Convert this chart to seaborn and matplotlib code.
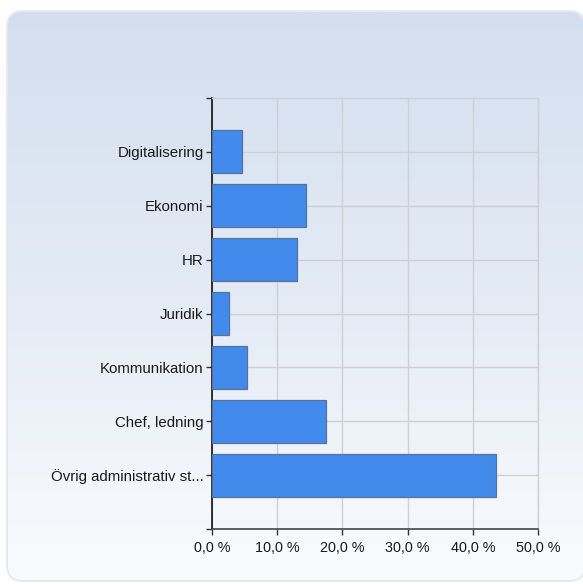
import numpy as np
import pandas as pd
import matplotlib
matplotlib.use("Agg")
import matplotlib.pyplot as plt
from matplotlib.patches import FancyBboxPatch
from matplotlib.colors import LinearSegmentedColormap
from matplotlib.ticker import FuncFormatter, FixedLocator
import seaborn as sns

categories = ["Digitalisering", "Ekonomi", "HR", "Juridik", "Kommunikation",
              "Chef, ledning", "Övrig administrativ st..."]
shares = [4.6, 14.4, 13.0, 2.6, 5.4, 17.5, 43.5]
x_ticks = [0, 10, 20, 30, 40, 50]

df = pd.DataFrame({"Kategori": categories, "Andel": shares})

sns.set_style("white")
plt.rcParams["font.family"] = ["Liberation Sans", "DejaVu Sans"]

fig = plt.figure(figsize=(5.83, 5.84), dpi=100)
fig.patch.set_facecolor("white")

# rounded panel with a vertical gradient behind the chart (pixel coordinates)
W, H = 583, 584
bg_ax = fig.add_axes([0, 0, 1, 1], zorder=-1)
bg_ax.set_xlim(0, W)
bg_ax.set_ylim(H, 0)
bg_ax.set_axis_off()
bg_ax.set_facecolor("none")

shadow = FancyBboxPatch((6, 10), 580, 572,
                        boxstyle="round,pad=0,rounding_size=17",
                        facecolor="#e8eaee", edgecolor="none", zorder=1)
bg_ax.add_patch(shadow)
panel = FancyBboxPatch((8, 12), 576, 568,
                       boxstyle="round,pad=0,rounding_size=15",
                       facecolor="none", edgecolor="none", zorder=2)
bg_ax.add_patch(panel)
cmap = LinearSegmentedColormap.from_list("panel", ["#d3dfef", "#e4ebf5", "#fafbfe"])
grad = np.linspace(0, 1, 256).reshape(-1, 1)
im = bg_ax.imshow(grad, aspect="auto", cmap=cmap, extent=[8, 584, 580, 12],
                  origin="upper", zorder=3)
im.set_clip_path(panel)

ax = fig.add_axes([212 / W, 1 - 529 / H, 326 / W, 431 / H])
ax.set_facecolor("none")

sns.barplot(data=df, y="Kategori", x="Andel", orient="h", ax=ax,
            color="#428aec", width=0.8, saturation=1,
            edgecolor="#56739c", linewidth=0.9, zorder=3)

ax.set_xlim(0, 50)
ax.set_ylim(7, -1)
ax.xaxis.set_major_locator(FixedLocator(x_ticks))
ax.xaxis.set_major_formatter(FuncFormatter(lambda v, p: f"{v:.1f} %".replace(".", ",")))
ax.yaxis.set_minor_locator(FixedLocator([-1, 7]))

ax.grid(True, color="#cdd0d4", linewidth=1, zorder=0)
ax.set_axisbelow(True)
ax.set_xlabel("")
ax.set_ylabel("")

for side in ["top", "right"]:
    ax.spines[side].set_visible(True)
    ax.spines[side].set_color("#cdd0d4")
    ax.spines[side].set_linewidth(1)
ax.spines["left"].set_color("#111111")
ax.spines["left"].set_linewidth(1.2)
ax.spines["bottom"].set_color("#444444")
ax.spines["bottom"].set_linewidth(1.2)

ax.tick_params(axis="y", which="both", left=True, length=4, width=1,
               color="#333333", pad=2, labelsize=10.8, labelcolor="#1a1a1a")
ax.tick_params(axis="x", bottom=True, length=4, width=1, color="#333333",
               pad=5, labelsize=10.4, labelcolor="#1a1a1a")

fig.savefig("out.png", dpi=100, facecolor="white")
